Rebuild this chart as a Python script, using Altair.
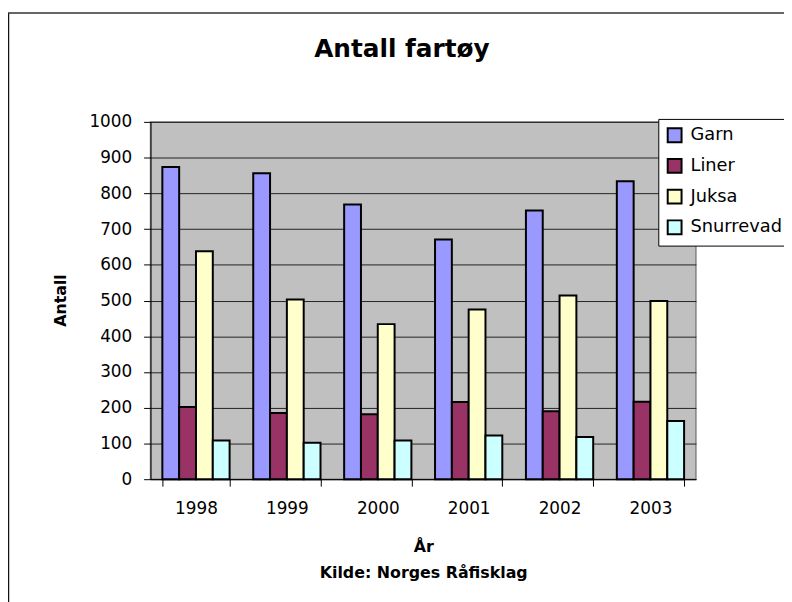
import altair as alt
import pandas as pd

years = ["1998", "1999", "2000", "2001", "2002", "2003"]
series = ["Garn", "Liner", "Juksa", "Snurrevad"]
garn = [874, 856, 769, 671, 752, 834]
liner = [202, 185, 182, 216, 190, 217]
juksa = [638, 503, 434, 475, 514, 499]
snurrevad = [108, 102, 108, 122, 118, 163]
colors = ["#9999FF", "#993366", "#FFFFCC", "#CCFFFF"]
y_ticks = list(range(0, 1001, 100))
chart_title = "Antall fartøy"

rows = []
for name, vals in zip(series, [garn, liner, juksa, snurrevad]):
    for yr, v in zip(years, vals):
        rows.append({"År": yr, "Serie": name, "Antall": v})
df = pd.DataFrame(rows)

FONT = "DejaVu Sans"
W, H = 551, 361

bars = alt.Chart(df).mark_bar(stroke="black", strokeWidth=2).encode(
    x=alt.X("År:N", sort=years,
            scale=alt.Scale(paddingInner=0.26, paddingOuter=0.13),
            axis=alt.Axis(title=["År", "Kilde: Norges Råfisklag"], labelAngle=0,
                          tickBand="extent", tickSize=7, labelPadding=15,
                          titleBaseline="top", titleY=60, titleLineHeight=26,
                          domainColor="black", tickColor="black", grid=False)),
    xOffset=alt.XOffset("Serie:N", sort=series,
                        scale=alt.Scale(paddingInner=0, paddingOuter=0)),
    y=alt.Y("Antall:Q", scale=alt.Scale(domain=[0, 1000], nice=False),
            axis=alt.Axis(values=y_ticks, format="d", title="Antall", tickSize=7, labelPadding=12,
                          grid=True, gridColor="#222222", gridWidth=1,
                          titleAngle=270, titleX=-91, titleY=180,
                          titleAlign="center", titleBaseline="middle",
                          domainColor="black", tickColor="black")),
    color=alt.Color("Serie:N", sort=series,
                    scale=alt.Scale(domain=series, range=colors),
                    legend=alt.Legend(title=None, orient="none", legendX=513, legendY=-3,
                                      symbolType="square", symbolSize=196,
                                      symbolStrokeColor="black", symbolStrokeWidth=2,
                                      symbolOpacity=1,
                                      labelFont=FONT, labelFontSize=18, labelColor="black",
                                      labelOffset=7, rowPadding=9, padding=7.5,
                                      strokeColor="black", fillColor="white")),
)

one = pd.DataFrame({"t": [chart_title]})
title_mark = alt.Chart(one).mark_text(font=FONT, fontSize=25, fontWeight="bold",
                                      color="black", align="center",
                                      baseline="alphabetic").encode(
    text="t:N", x=alt.value(254), y=alt.value(-66))

left_border = alt.Chart(one).mark_rule(color="#111111", strokeWidth=1.5).encode(
    x=alt.value(-143.5), y=alt.value(-110), y2=alt.value(500))
top_border = alt.Chart(one).mark_rule(color="#333333", strokeWidth=1.5).encode(
    x=alt.value(-144), x2=alt.value(700), y=alt.value(-110))

chart = alt.layer(bars, title_mark, left_border, top_border).properties(
    width=W, height=H,
    autosize=alt.AutoSizeParams(type="none"),
    padding={"left": 144, "top": 112, "right": 89, "bottom": 121},
    background="white",
).configure_view(
    fill="#C0C0C0", stroke="#808080", strokeWidth=1.5
).configure_axis(
    labelFont=FONT, labelFontSize=17, labelColor="black",
    titleFont=FONT, titleFontSize=16, titleFontWeight="bold", titleColor="black",
)

chart.save("out.html", embed_options={"renderer": "svg", "actions": False})
